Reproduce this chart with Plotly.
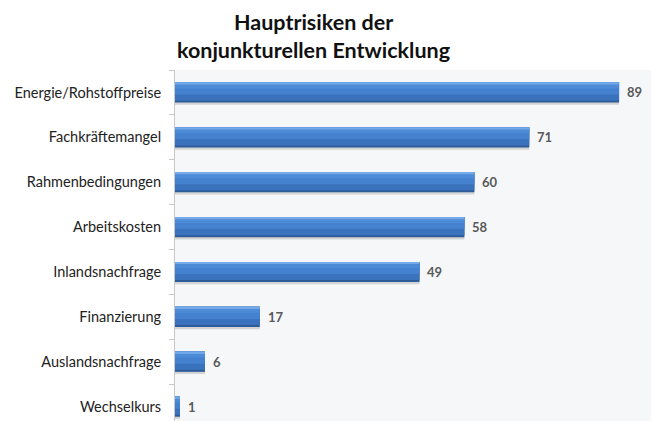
import plotly.graph_objects as go

categories = ["Energie/Rohstoffpreise", "Fachkräftemangel", "Rahmenbedingungen",
              "Arbeitskosten", "Inlandsnachfrage", "Finanzierung",
              "Auslandsnachfrage", "Wechselkurs"]
values = [89, 71, 60, 58, 49, 17, 6, 1]
title_lines = ["Hauptrisiken der", "konjunkturellen Entwicklung"]

FONT = "Lato"
W = 0.45
fig = go.Figure()

# shadow
fig.add_trace(go.Bar(y=categories, x=values, orientation="h", width=W, offset=-W / 2 + 0.05,
                     marker=dict(color="rgba(0,0,0,0.14)", line=dict(width=0)),
                     hoverinfo="skip", showlegend=False))
# gradient layers of the bar (from dark base to light top)
layers = [(1.0, "#2e5c99"), (0.9, "#3a72bd"), (0.6, "#4482cf"), (0.3, "#4d8bd7"), (0.11, "#74aaea")]
for frac, col in layers:
    fig.add_trace(go.Bar(y=categories, x=values, orientation="h", width=W * frac, offset=-W / 2,
                         marker=dict(color=col, line=dict(width=0)),
                         hoverinfo="skip", showlegend=False))

# data labels
for c, v in zip(categories, values):
    fig.add_annotation(x=v, y=c, text=f"<b>{v}</b>", showarrow=False,
                       xanchor="left", yanchor="middle", xshift=6,
                       font=dict(family=FONT, size=13, color="#595959"))

# title
for i, line in enumerate(title_lines):
    fig.add_annotation(text=f"<b>{line}</b>", xref="paper", yref="paper",
                       x=(313 - 175) / (651 - 175), y=1, yshift=48 - 28 * i,
                       xanchor="center", yanchor="middle", showarrow=False,
                       font=dict(family=FONT, size=21.5, color="#111111"))

fig.update_layout(
    width=658, height=421,
    barmode="overlay",
    paper_bgcolor="white",
    plot_bgcolor="#f6f7f9",
    margin=dict(l=175, r=7, t=70, b=0),
    font=dict(family=FONT, size=14.5, color="#222222"),
    xaxis=dict(range=[0, 95.4], visible=False, fixedrange=True),
    yaxis=dict(categoryorder="array", categoryarray=categories, automargin=False,
               range=[7.32, -0.5], showline=True, linecolor="#c8c8c8", linewidth=1,
               ticks="outside", tickson="boundaries", ticklen=5, tickcolor="#c8c8c8",
               showgrid=False, ticklabelstandoff=10,
               tickfont=dict(family=FONT, size=14.5, color="#222222")),
)

fig.write_html("out.html", config={"displayModeBar": False},
               post_script="document.body.style.margin='0';")
